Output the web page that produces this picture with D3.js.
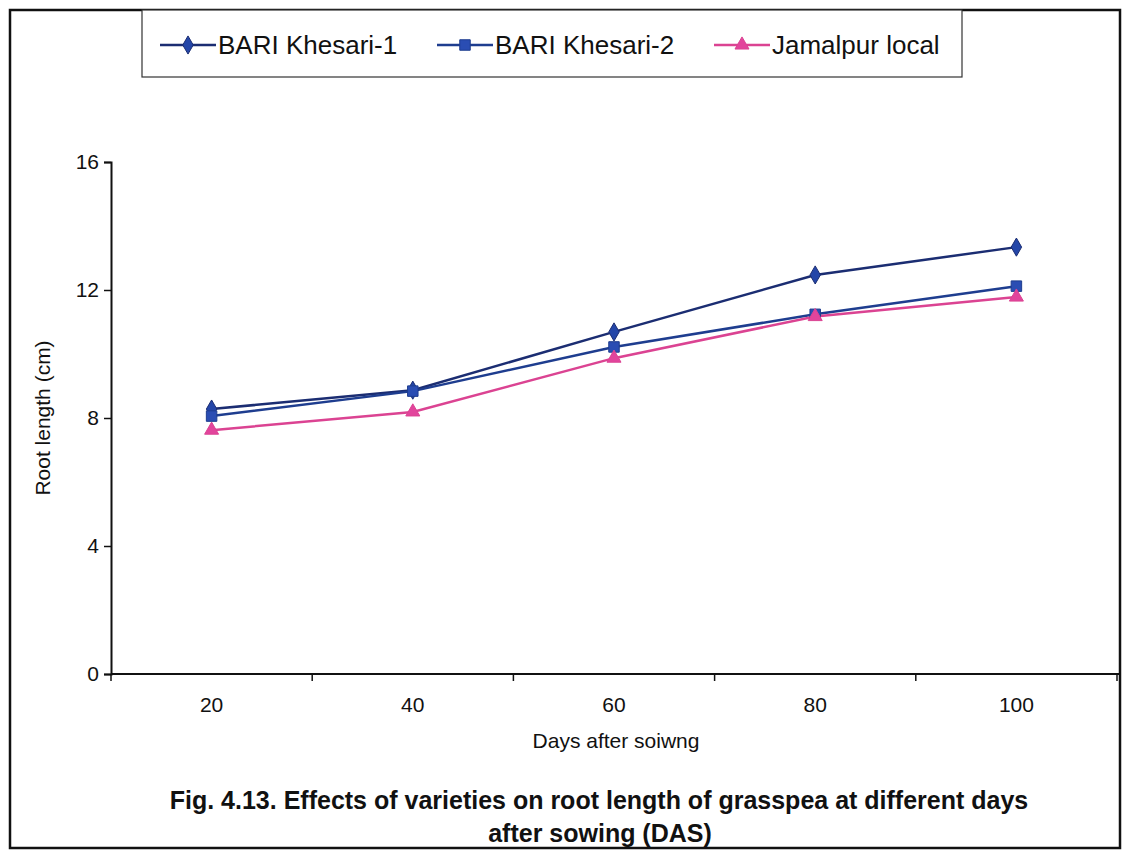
<!DOCTYPE html>
<html>
<head>
<meta charset="utf-8">
<script src="https://cdn.jsdelivr.net/npm/d3@7"></script>
<style>
  html, body { margin: 0; padding: 0; background: #fff; }
  svg { display: block; font-family: "Liberation Sans", Arial, sans-serif; }
</style>
</head>
<body>
<svg id="chart" width="1129" height="851"></svg>
<script>
// Days after sowing (category axis)
const days = ["20", "40", "60", "80", "100"];
// Root length (cm) for each variety
const khesari1 = [8.28, 8.87, 10.69, 12.47, 13.34];
const khesari2 = [8.06, 8.84, 10.22, 11.24, 12.12];
const jamalpur = [7.62, 8.19, 9.87, 11.17, 11.78];
const yTicks = [0, 4, 8, 12, 16];
const seriesNames = ["BARI Khesari-1", "BARI Khesari-2", "Jamalpur local"];

const series = [
  { name: seriesNames[0], values: khesari1, line: "#1b2d72", fill: "#2446a8", symbol: d3.symbolDiamond, size: 95 },
  { name: seriesNames[1], values: khesari2, line: "#1e3d8f", fill: "#2a4db3", symbol: d3.symbolSquare, size: 110 },
  { name: seriesNames[2], values: jamalpur, line: "#db4392", fill: "#e2449c", symbol: d3.symbolTriangle, size: 85 }
];

const svg = d3.select("#chart");

// outer frame
svg.append("rect")
  .attr("x", 10).attr("y", 10).attr("width", 1110).attr("height", 838)
  .attr("fill", "none").attr("stroke", "#111").attr("stroke-width", 2.5);

const plot = { left: 111, right: 1117, top: 162, bottom: 674 };

const x = d3.scaleBand().domain(days).range([plot.left, plot.right]);
const y = d3.scaleLinear().domain([0, 16]).range([plot.bottom, plot.top]);

// y axis
const yAxis = svg.append("g")
  .attr("transform", `translate(${plot.left},0)`)
  .call(d3.axisLeft(y).tickValues(yTicks).tickSize(7).tickPadding(5));
yAxis.select(".domain").attr("stroke", "#111").attr("stroke-width", 2);
yAxis.selectAll(".tick line").attr("stroke", "#111").attr("stroke-width", 1.5);
yAxis.selectAll(".tick text").attr("font-size", 21).attr("fill", "#111")
  .attr("font-family", "Liberation Sans, Arial, sans-serif");

// x axis: ticks sit on category boundaries
const xAxisG = svg.append("g").attr("transform", `translate(0,${plot.bottom})`);
xAxisG.append("line")
  .attr("x1", plot.left).attr("x2", 1120)
  .attr("stroke", "#111").attr("stroke-width", 2);
const boundaries = days.map(d => x(d)).concat([x(days[days.length - 1]) + x.bandwidth()]);
xAxisG.selectAll("line.tick")
  .data(boundaries)
  .join("line")
  .attr("class", "tick")
  .attr("x1", d => d).attr("x2", d => d)
  .attr("y1", 0).attr("y2", 7)
  .attr("stroke", "#111").attr("stroke-width", 1.5);
xAxisG.selectAll("text")
  .data(days)
  .join("text")
  .attr("x", d => x(d) + x.bandwidth() / 2)
  .attr("y", 38)
  .attr("text-anchor", "middle")
  .attr("font-size", 21)
  .attr("fill", "#111")
  .text(d => d);

// axis titles
svg.append("text")
  .attr("x", 616)
  .attr("y", 748)
  .attr("text-anchor", "middle")
  .attr("font-size", 21)
  .attr("fill", "#111")
  .text("Days after soiwng");

svg.append("text")
  .attr("transform", `translate(50,418) rotate(-90)`)
  .attr("text-anchor", "middle")
  .attr("font-size", 21)
  .attr("fill", "#111")
  .text("Root length (cm)");

// series lines and markers
const line = d3.line()
  .x((d, i) => x(days[i]) + x.bandwidth() / 2)
  .y(d => y(d));

series.forEach(s => {
  svg.append("path")
    .datum(s.values)
    .attr("d", line)
    .attr("fill", "none")
    .attr("stroke", s.line)
    .attr("stroke-width", 2.5);
});

series.forEach(s => {
  svg.append("g").selectAll("path")
    .data(s.values)
    .join("path")
    .attr("transform", (d, i) => `translate(${x(days[i]) + x.bandwidth() / 2},${y(d)})`)
    .attr("d", d3.symbol().type(s.symbol).size(s.size))
    .attr("fill", s.fill)
    .attr("stroke", s.line)
    .attr("stroke-width", 1);
});

// legend
const legend = svg.append("g");
legend.append("rect")
  .attr("x", 142).attr("y", 10).attr("width", 820).attr("height", 67)
  .attr("fill", "#fff").attr("stroke", "#333").attr("stroke-width", 1.2);

const legendX = [160, 437, 714];
series.forEach((s, i) => {
  const g = legend.append("g").attr("transform", `translate(${legendX[i]},45)`);
  g.append("line").attr("x1", 0).attr("x2", 56).attr("stroke", s.line).attr("stroke-width", 2.5);
  g.append("path")
    .attr("transform", "translate(28,0)")
    .attr("d", d3.symbol().type(s.symbol).size(s.size))
    .attr("fill", s.fill).attr("stroke", s.line).attr("stroke-width", 1);
  g.append("text")
    .attr("x", 58).attr("y", 9)
    .attr("font-size", 26)
    .attr("fill", "#111")
    .text(s.name);
});

// caption
const caption = svg.append("g").attr("font-weight", "bold").attr("font-size", 25).attr("fill", "#111");
caption.append("text")
  .attr("x", 599).attr("y", 809).attr("text-anchor", "middle")
  .text("Fig. 4.13. Effects of varieties on root length of grasspea at different days");
caption.append("text")
  .attr("x", 600).attr("y", 842).attr("text-anchor", "middle")
  .text("after sowing (DAS)");
</script>
</body>
</html>
